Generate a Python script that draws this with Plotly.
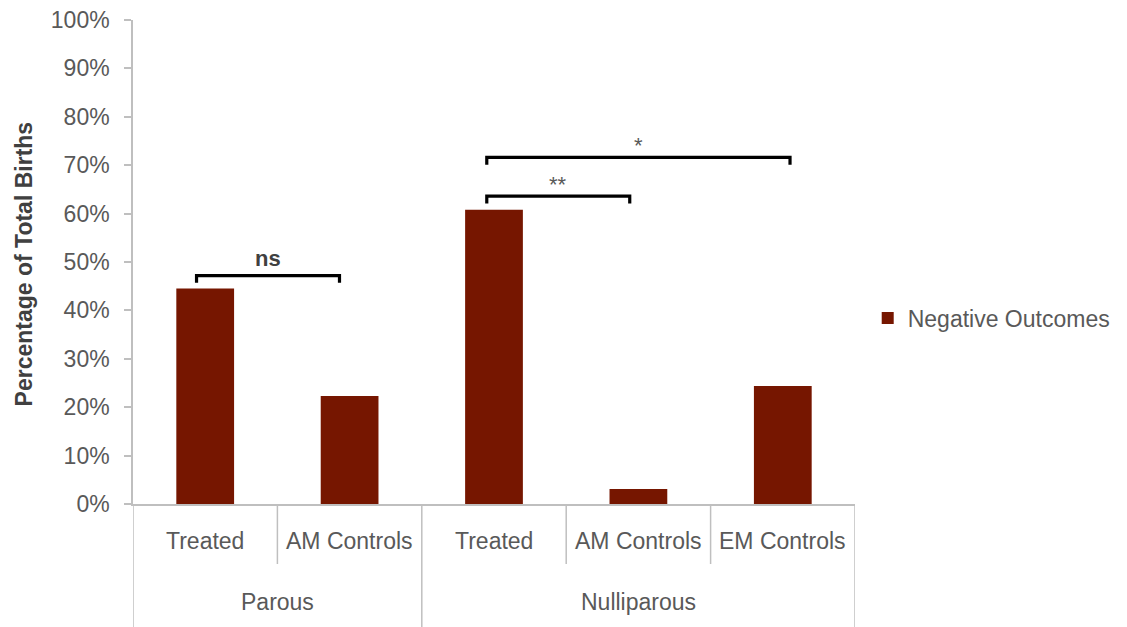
import plotly.graph_objects as go

# ---- data ----
categories = ["Treated", "AM Controls", "Treated", "AM Controls", "EM Controls"]
groups = ["Parous", "Nulliparous"]
group_sizes = [2, 3]
negative_outcomes = [44.5, 22.3, 60.8, 3.1, 24.4]
y_ticks = [0, 10, 20, 30, 40, 50, 60, 70, 80, 90, 100]
y_tick_labels = [f"{v}%" for v in y_ticks]
series_name = "Negative Outcomes"

# significance brackets: (start index, end index, height %, label)
bracket_start = [-0.06, 1.95, 1.95]
bracket_end = [0.93, 2.94, 4.05]
bracket_height = [47.2, 63.6, 71.6]
bracket_label = ["ns", "**", "*"]

FONT = "Liberation Sans, Arial, sans-serif"
BAR = "#761600"
AXIS = "#bfbfbf"
TXT = "#595959"

x_idx = list(range(len(categories)))

fig = go.Figure()
fig.add_trace(go.Bar(
    x=x_idx, y=negative_outcomes, name=series_name,
    marker=dict(color=BAR, line=dict(width=0)),
    showlegend=True,
))

shapes = []
annotations = []

# category labels
for i, c in enumerate(categories):
    annotations.append(dict(x=i, y=-0.077, xref="x", yref="paper", text=c,
                            showarrow=False, yanchor="middle",
                            font=dict(family=FONT, size=23, color=TXT)))
# group labels and dividers
start = 0
bounds = [-0.5]
for g, n in zip(groups, group_sizes):
    center = start + (n - 1) / 2
    annotations.append(dict(x=center, y=-0.203, xref="x", yref="paper", text=g,
                            showarrow=False, yanchor="middle",
                            font=dict(family=FONT, size=23, color=TXT)))
    for k in range(1, n):
        shapes.append(dict(type="line", xref="x", yref="paper",
                           x0=start + k - 0.5, x1=start + k - 0.5, y0=0, y1=-0.124,
                           line=dict(color=AXIS, width=1.5)))
    start += n
    bounds.append(start - 0.5)
for b in bounds:
    shapes.append(dict(type="line", xref="x", yref="paper",
                       x0=b, x1=b, y0=0, y1=-0.27,
                       line=dict(color=AXIS, width=1.5)))

# brackets
tick_depth = 1.5
for x0, x1, h, lab in zip(bracket_start, bracket_end, bracket_height, bracket_label):
    shapes.append(dict(type="path", xref="x", yref="y",
                       path=f"M {x0},{h - tick_depth} L {x0},{h} L {x1},{h} L {x1},{h - tick_depth}",
                       line=dict(color="black", width=3.2)))
    if lab == "ns":
        annotations.append(dict(x=(x0 + x1) / 2, y=h + 3.5, xref="x", yref="y", text="<b>ns</b>",
                                showarrow=False, yanchor="middle",
                                font=dict(family=FONT, size=22, color="#404040")))
    else:
        annotations.append(dict(x=(x0 + x1) / 2, y=h - 0.5, xref="x", yref="y", text=lab,
                                showarrow=False, yanchor="bottom",
                                font=dict(family=FONT, size=22, color=TXT)))

# y-axis title
annotations.append(dict(x=-0.151, y=0.497, xref="paper", yref="paper",
                        text="<b>Percentage of Total Births</b>", textangle=-90,
                        showarrow=False, xanchor="center", yanchor="middle",
                        font=dict(family=FONT, size=23, color="#404040")))

fig.update_layout(
    width=1127, height=627,
    margin=dict(l=125, r=280, t=12, b=131),
    paper_bgcolor="white", plot_bgcolor="white",
    bargap=0.6,
    font=dict(family=FONT, color=TXT),
    xaxis=dict(range=[-0.5, 4.5], showticklabels=False, showgrid=False, zeroline=False,
               showline=True, linecolor=AXIS, linewidth=1.5, ticks="", fixedrange=True,
               automargin=False),
    yaxis=dict(range=[0, 100], tickvals=y_ticks, ticktext=y_tick_labels,
               showgrid=False, zeroline=False, showline=True, linecolor=AXIS, linewidth=1.5,
               ticks="outside", ticklen=7, tickcolor=AXIS, tickwidth=1.5,
               ticklabelstandoff=10, ticklabeloverflow="allow", automargin=False,
               tickfont=dict(family=FONT, size=23, color=TXT)),
    legend=dict(x=1.0176, y=0.384, xanchor="left", yanchor="middle",
                font=dict(family=FONT, size=23, color=TXT), bgcolor="rgba(0,0,0,0)"),
    shapes=shapes,
    annotations=annotations,
)

fig.write_html("out.html")
